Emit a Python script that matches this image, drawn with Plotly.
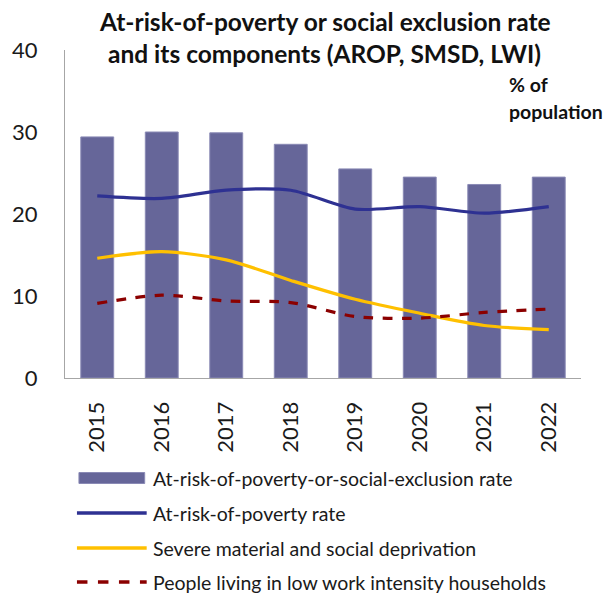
import plotly.graph_objects as go

years = ["2015", "2016", "2017", "2018", "2019", "2020", "2021", "2022"]
arope = [29.4, 30.0, 29.9, 28.5, 25.5, 24.5, 23.6, 24.5]
arop = [22.2, 21.9, 22.9, 22.9, 20.6, 20.9, 20.1, 20.9]
smsd = [14.6, 15.4, 14.4, 11.9, 9.6, 7.9, 6.4, 5.9]
lwi = [9.1, 10.1, 9.4, 9.2, 7.5, 7.3, 8.0, 8.4]

names = [
    "At-risk-of-poverty-or-social-exclusion rate",
    "At-risk-of-poverty rate",
    "Severe material and social deprivation",
    "People living in low work intensity households",
]
BAR_C = "#666699"
AROP_C = "#2E3192"
SMSD_C = "#FFC000"
LWI_C = "#8B0000"
FONT = "Lato"

W, H = 608, 596
L, R, T, B = 63, 27, 50, 218
pw, ph = W - L - R, H - T - B


def px(x):
    return (x - L) / pw


def py(y):
    return (H - B - y) / ph


fig = go.Figure()
fig.add_trace(go.Bar(x=years, y=arope, name=names[0], marker=dict(color=BAR_C, line=dict(color="#8A8AB5", width=1))))
fig.add_trace(go.Scatter(x=years, y=arop, name=names[1], mode="lines",
                         line=dict(color=AROP_C, width=3.2, shape="spline", smoothing=0.8)))
fig.add_trace(go.Scatter(x=years, y=smsd, name=names[2], mode="lines",
                         line=dict(color=SMSD_C, width=3.2, shape="spline", smoothing=0.8)))
fig.add_trace(go.Scatter(x=years, y=lwi, name=names[3], mode="lines",
                         line=dict(color=LWI_C, width=3.2, dash="dash", shape="spline", smoothing=0.8)))

shapes = []
annotations = []

# legend drawn below the axis
rows = [478, 513, 548, 582]
shapes.append(dict(type="rect", xref="paper", yref="paper", x0=px(77), x1=px(143),
                   y0=py(rows[0] - 5.5), y1=py(rows[0] + 5.5), fillcolor=BAR_C, line=dict(color="#8A8AB5", width=1)))
for yy, col, dash in [(rows[1], AROP_C, "solid"), (rows[2], SMSD_C, "solid"), (rows[3], LWI_C, "dash")]:
    shapes.append(dict(type="line", xref="paper", yref="paper", x0=px(75), x1=px(145),
                       y0=py(yy), y1=py(yy), line=dict(color=col, width=3.5, dash=dash)))
for yy, nm in zip(rows, names):
    annotations.append(dict(text=nm, xref="paper", yref="paper", x=px(149), y=py(yy),
                            xanchor="left", yanchor="middle", showarrow=False,
                            font=dict(family=FONT, size=19.5, color="#1a1a1a")))

# title lines
annotations.append(dict(text="<b>At-risk-of-poverty or social exclusion rate</b>", xref="paper", yref="paper",
                        x=px(324), y=py(22), xanchor="center", yanchor="middle", showarrow=False,
                        font=dict(family=FONT, size=24.5, color="#111111")))
annotations.append(dict(text="<b>and its components (AROP, SMSD, LWI)</b>", xref="paper", yref="paper",
                        x=px(324), y=py(53), xanchor="center", yanchor="middle", showarrow=False,
                        font=dict(family=FONT, size=24.5, color="#111111")))
# unit label
annotations.append(dict(text="<b>% of</b>", xref="paper", yref="paper", x=px(507), y=py(84),
                        xanchor="left", yanchor="middle", showarrow=False,
                        font=dict(family=FONT, size=19.5, color="#111111")))
annotations.append(dict(text="<b>population</b>", xref="paper", yref="paper", x=px(507), y=py(112),
                        xanchor="left", yanchor="middle", showarrow=False,
                        font=dict(family=FONT, size=19.5, color="#111111")))

fig.update_layout(
    width=W, height=H,
    margin=dict(l=L, r=R, t=T, b=B, pad=0),
    paper_bgcolor="white", plot_bgcolor="white",
    showlegend=False,
    bargap=0.49,
    shapes=shapes,
    annotations=annotations,
    font=dict(family=FONT, color="#1a1a1a"),
)
fig.update_xaxes(
    type="category", showline=True, linecolor="#A6A6A6", linewidth=1,
    showgrid=False, ticks="", tickangle=-90, ticklabelstandoff=14,
    tickfont=dict(family=FONT, size=22, color="#1a1a1a"),
)
fig.update_yaxes(
    range=[0, 40], tickvals=[0, 10, 20, 30, 40], showline=True, linecolor="#A6A6A6", linewidth=1,
    showgrid=False, zeroline=False, ticks="", ticklabelstandoff=22,
    tickfont=dict(family=FONT, size=22, color="#1a1a1a"),
)

fig.write_html("out.html")
